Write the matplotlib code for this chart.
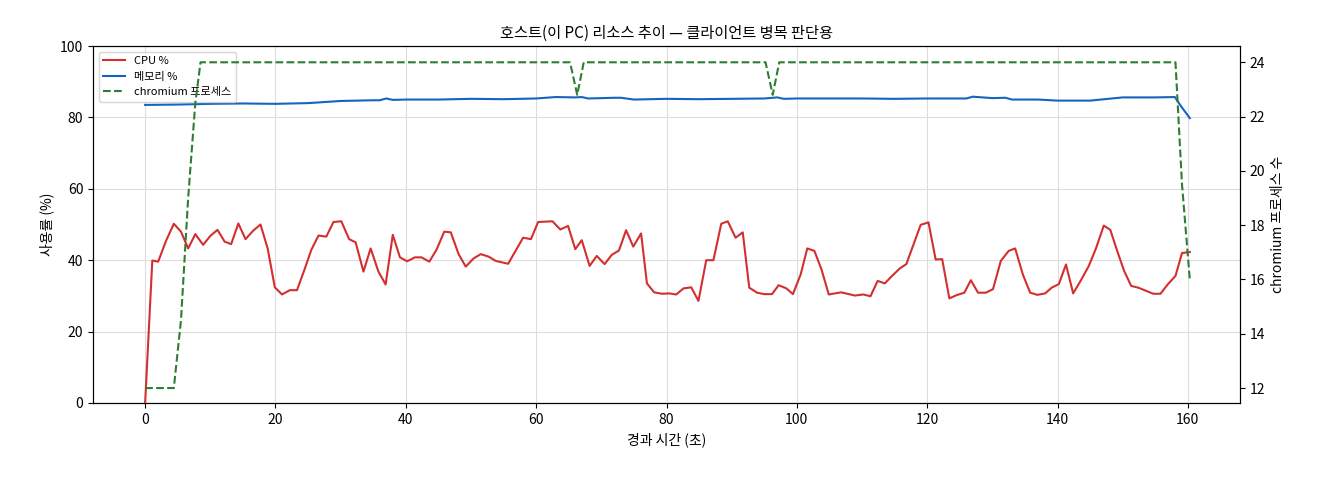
import matplotlib
matplotlib.use("Agg")
import matplotlib.pyplot as plt

plt.rcParams['font.family'] = ['Noto Sans CJK KR', 'DejaVu Sans']
plt.rcParams['axes.unicode_minus'] = False

cpu_t = [0, 1.1, 2.0, 3.2, 4.4, 5.5, 6.6, 7.7, 8.9, 10.0, 11.1, 12.2, 13.2, 14.3, 15.4, 16.6, 17.7, 18.8, 19.9, 21.0,
         22.2, 23.3, 24.4, 25.5, 26.6, 27.8, 28.9, 30.1, 31.3, 32.3, 33.5, 34.6, 35.8, 36.9, 38.0, 39.1, 40.2, 41.4, 42.4, 43.6,
         44.7, 45.9, 46.9, 48.1, 49.2, 50.4, 51.5, 52.7, 53.8, 55.7, 58.0, 59.2, 60.3, 62.5, 63.7, 64.9, 66.0, 67.0, 68.2, 69.3,
         70.5, 71.6, 72.7, 73.8, 74.9, 76.1, 77.0, 78.1, 79.3, 80.4, 81.5, 82.6, 83.8, 84.9, 86.1, 87.2, 88.4, 89.4, 90.6, 91.7,
         92.7, 93.9, 95.0, 96.2, 97.2, 98.4, 99.4, 100.6, 101.6, 102.7, 103.8, 104.9, 106.8, 108.9, 110.2, 111.3, 112.4, 113.5, 114.5, 115.8,
         116.8, 119.0, 120.2, 121.3, 122.3, 123.4, 124.5, 125.7, 126.7, 127.8, 129.0, 130.1, 131.3, 132.5, 133.5, 134.7, 135.8, 136.9, 138.1, 139.1,
         140.2, 141.3, 142.4, 143.6, 144.8, 145.9, 147.1, 148.1, 149.1, 150.2, 151.3, 152.4, 153.6, 154.7, 155.8, 156.9, 158.1, 159.1, 160.3]
cpu_v = [0, 39.9, 39.6, 45.4, 50.2, 48.0, 43.3, 47.3, 44.3, 46.8, 48.5, 45.2, 44.5, 50.3, 45.9, 48.3, 50.0, 43.3, 32.4, 30.4,
         31.6, 31.6, 37.1, 42.9, 46.9, 46.6, 50.7, 50.9, 45.9, 45.0, 36.8, 43.3, 36.8, 33.2, 47.1, 40.8, 39.7, 40.8, 40.8, 39.6,
         42.9, 48.0, 47.8, 41.7, 38.2, 40.5, 41.7, 41.0, 39.8, 39.0, 46.3, 45.9, 50.7, 50.9, 48.6, 49.6, 43.1, 45.6, 38.4, 41.2,
         38.9, 41.5, 42.7, 48.4, 43.8, 47.5, 33.5, 31.0, 30.6, 30.7, 30.4, 32.1, 32.4, 28.6, 40.0, 40.0, 50.2, 50.9, 46.3, 47.8,
         32.3, 30.9, 30.5, 30.5, 33.0, 32.1, 30.5, 36.1, 43.3, 42.6, 37.3, 30.4, 31.0, 30.1, 30.4, 29.9, 34.2, 33.5, 35.4, 37.7,
         38.9, 49.9, 50.6, 40.2, 40.3, 29.3, 30.2, 30.9, 34.4, 30.9, 30.9, 31.9, 39.8, 42.6, 43.3, 35.9, 30.9, 30.3, 30.7, 32.3,
         33.3, 38.8, 30.7, 34.4, 38.4, 43.3, 49.7, 48.5, 42.9, 37.1, 32.8, 32.3, 31.4, 30.6, 30.6, 33.2, 35.6, 42.0, 42.3]

mem_t = [0, 5, 10, 15, 20, 25, 30, 35, 36, 37, 38, 40, 45, 50, 55, 60, 63, 66, 67, 68, 72, 73, 75, 80, 85, 90, 95, 97, 98,
         100, 110, 115, 120, 126, 127, 130, 132, 133, 137, 140, 145, 150, 155, 158, 159, 160.3]
mem_v = [83.5, 83.6, 83.8, 83.9, 83.8, 84.0, 84.6, 84.8, 84.8, 85.3, 84.9, 85.0, 85.0, 85.2, 85.1, 85.3, 85.7, 85.6, 85.7, 85.3,
         85.5, 85.5, 85.0, 85.2, 85.1, 85.2, 85.3, 85.6, 85.2, 85.3, 85.3, 85.2, 85.3, 85.3, 85.8, 85.4, 85.5, 85.0, 85.0, 84.7,
         84.7, 85.6, 85.6, 85.7, 83.0, 79.8]

proc_t = [0, 4.4, 5.5, 6.6, 7.7, 8.5, 65.2, 66.3, 67.3, 95.2, 96.3, 97.3, 158.1, 159.1, 160.3]
proc_v = [12, 12, 14.5, 19, 22.5, 24, 24, 22.8, 24, 24, 22.8, 24, 24, 19.5, 16]

fig = plt.figure(figsize=(13.2, 4.8), dpi=100)
ax = fig.add_axes([93/1320, 1-403/480, (1240-93)/1320, (403-46)/480])
ax2 = ax.twinx()

l1, = ax.plot(cpu_t, cpu_v, color='#d32f2f', lw=1.5, label='CPU %')
l2, = ax.plot(mem_t, mem_v, color='#1565c0', lw=1.5, label='메모리 %')
l3, = ax2.plot(proc_t, proc_v, color='#2e7d32', lw=1.5, ls='--', label='chromium 프로세스')

ax.set_ylim(0, 100)
ax.set_xlim(-8, 168)
ax2.set_ylim(11.45, 24.6)
ax.grid(True, color='#dddddd', lw=0.8)
ax.set_axisbelow(True)
ax.set_xlabel('경과 시간 (초)', fontsize=10)
ax.set_ylabel('사용률 (%)', fontsize=10)
ax2.set_ylabel('chromium 프로세스 수', fontsize=10)
ax.set_title('호스트(이 PC) 리소스 추이 — 클라이언트 병목 판단용', fontsize=11)
ax.tick_params(labelsize=10)
ax2.tick_params(labelsize=10)
ax.legend(handles=[l1, l2, l3], loc='upper left', fontsize=8, framealpha=0.8)

fig.savefig('out.png', dpi=100)
